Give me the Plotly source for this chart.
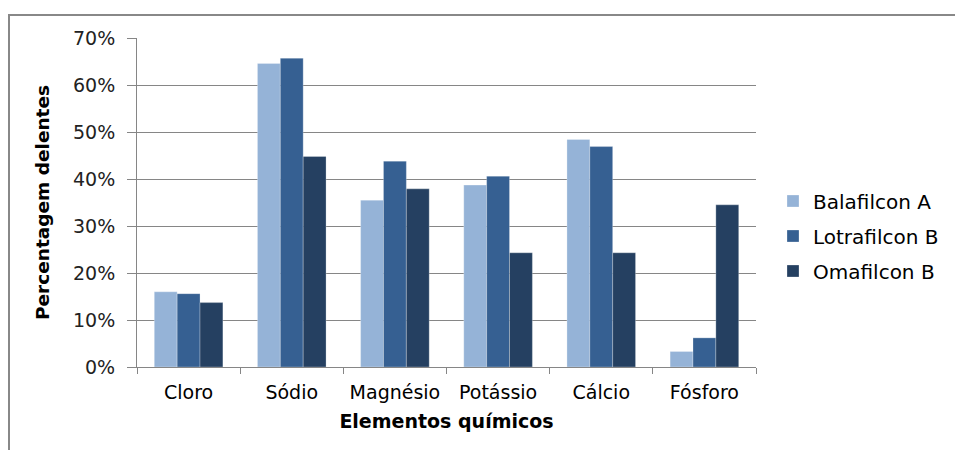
import plotly.graph_objects as go

categories = ["Cloro", "Sódio", "Magnésio", "Potássio", "Cálcio", "Fósforo"]
balafilcon_a = [16.0, 64.6, 35.5, 38.7, 48.4, 3.3]
lotrafilcon_b = [15.6, 65.7, 43.8, 40.6, 46.9, 6.2]
omafilcon_b = [13.7, 44.8, 37.9, 24.3, 24.3, 34.5]

series = [
    ("Balafilcon A", balafilcon_a, "#95B3D7"),
    ("Lotrafilcon B", lotrafilcon_b, "#366092"),
    ("Omafilcon B", omafilcon_b, "#254061"),
]

FONT = "DejaVu Sans"
fig = go.Figure()
for i, (name, vals, col) in enumerate(series):
    fig.add_trace(go.Bar(
        x=categories, y=vals, name=name, legendgroup=f"g{i}",
        marker=dict(color=col, line=dict(width=0.6, color="rgba(255,255,255,0.45)")),
    ))

L, R, T, B = 137, 199, 38, 83
W, H = 955, 450
pw, ph = W - L - R, H - T - B

def px(x):
    return (x - L) / pw

def py(y):
    return (H - B - y) / ph

fig.update_layout(
    width=W, height=H,
    margin=dict(l=L, r=R, t=T, b=B, autoexpand=False),
    paper_bgcolor="white", plot_bgcolor="white",
    barmode="group", bargap=0.335, bargroupgap=0,
    font=dict(family=FONT, size=19, color="#000000"),
    legend=dict(
        x=px(773), xanchor="left", y=py(236), yanchor="middle",
        font=dict(family=FONT, size=20, color="#000000"),
        tracegroupgap=6, traceorder="grouped",
        bgcolor="rgba(0,0,0,0)",
    ),
    xaxis=dict(
        showline=True, linecolor="#868686", linewidth=1,
        ticks="outside", ticklen=6, tickcolor="#868686", tickson="boundaries",
        tickfont=dict(family=FONT, size=19), ticklabelstandoff=8,
        title=dict(text="<b>Elementos químicos</b>", font=dict(family=FONT, size=19), standoff=12),
        showgrid=False, automargin=False,
    ),
    yaxis=dict(
        range=[0, 70], dtick=10, ticksuffix="%",
        showline=True, linecolor="#868686", linewidth=1,
        ticks="outside", ticklen=9, tickcolor="#868686",
        showgrid=True, gridcolor="#868686", gridwidth=1,
        zeroline=False,
        tickfont=dict(family=FONT, size=19, color="#222222"), ticklabelstandoff=8,
        title=dict(text="<b>Percentagem delentes</b>", font=dict(family=FONT, size=18.5), standoff=18),
        automargin=False,
    ),
    shapes=[dict(
        type="rect", xref="paper", yref="paper",
        x0=px(9), x1=px(975), y0=py(470), y1=py(15),
        line=dict(color="#888888", width=2), fillcolor="rgba(0,0,0,0)", layer="below",
    )],
)

fig.write_html("out.html")
